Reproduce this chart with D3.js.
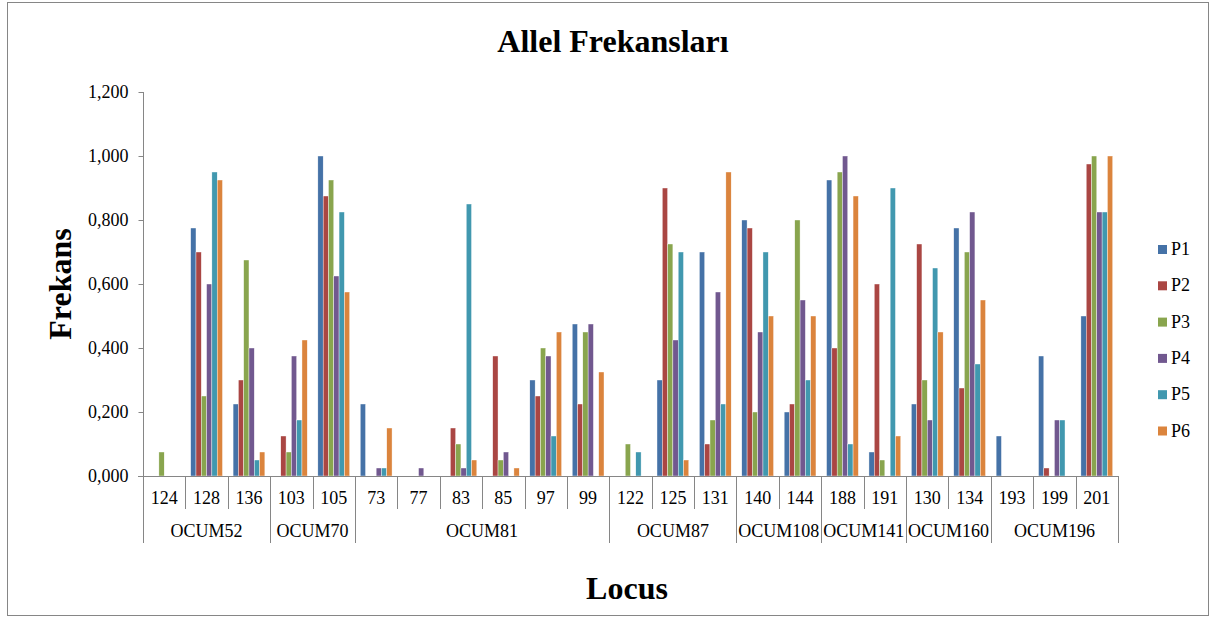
<!DOCTYPE html>
<html>
<head>
<meta charset="utf-8">
<script src="https://cdn.jsdelivr.net/npm/d3@7"></script>
<style>
  html, body { margin: 0; padding: 0; background: #fff; }
</style>
</head>
<body>
<div id="chart"></div>
<script>
const categories = ["124", "128", "136", "103", "105", "73", "77", "83", "85", "97", "99",
    "122", "125", "131", "140", "144", "188", "191", "130", "134", "193", "199", "201"];
const locusNames = ["OCUM52", "OCUM70", "OCUM81", "OCUM87", "OCUM108", "OCUM141", "OCUM160", "OCUM196"];
const locusSizes = [3, 2, 6, 3, 2, 2, 2, 3];
const seriesNames = ["P1", "P2", "P3", "P4", "P5", "P6"];
const seriesColors = ["#4572A7", "#AA4643", "#89A54E", "#71588F", "#4198AF", "#DB843D"];

const P1 = [0, .775, .225, 0, 1, .225, 0, 0, 0, .3, .475, 0, .3, .7, .8, .2, .925, .075, .225, .775, .125, .375, .5];
const P2 = [0, .7, .3, .125, .875, 0, 0, .15, .375, .25, .225, 0, .9, .1, .775, .225, .4, .6, .725, .275, 0, .025, .975];
const P3 = [.075, .25, .675, .075, .925, 0, 0, .1, .05, .4, .45, .1, .725, .175, .2, .8, .95, .05, .3, .7, 0, 0, 1];
const P4 = [0, .6, .4, .375, .625, .025, .025, .025, .075, .375, .475, 0, .425, .575, .45, .55, 1, 0, .175, .825, 0, .175, .825];
const P5 = [0, .95, .05, .175, .825, .025, 0, .85, 0, .125, 0, .075, .7, .225, .7, .3, .1, .9, .65, .35, 0, .175, .825];
const P6 = [0, .925, .075, .425, .575, .15, 0, .05, .025, .45, .325, 0, .05, .95, .5, .5, .875, .125, .45, .55, 0, 0, 1];
const seriesValues = [P1, P2, P3, P4, P5, P6];

const yTicks = [0, 0.2, 0.4, 0.6, 0.8, 1.0, 1.2];

const width = 1216, height = 617;
const axisColor = "#868686";
const serif = "'Liberation Serif', 'Times New Roman', Times, serif";

const svg = d3.select("#chart").append("svg")
    .attr("width", width)
    .attr("height", height);

// outer frame
svg.append("rect")
    .attr("x", 7.5).attr("y", 2.5)
    .attr("width", 1201).attr("height", 613)
    .attr("fill", "#fff")
    .attr("stroke", axisColor)
    .attr("stroke-width", 1);

const x = d3.scaleBand()
    .domain(categories)
    .range([143, 1118])
    .paddingInner(0)
    .paddingOuter(0);

const xs = d3.scaleBand()
    .domain(seriesNames)
    .range([0, x.bandwidth()])
    .paddingInner(0)
    .paddingOuter(1);

const y = d3.scaleLinear()
    .domain([0, 1.2])
    .range([476, 92]);

// bars
const rows = [];
categories.forEach((c, i) => {
    seriesNames.forEach((s, j) => {
        rows.push({ cat: c, series: s, value: seriesValues[j][i], color: seriesColors[j] });
    });
});

svg.append("g")
    .selectAll("rect")
    .data(rows.filter(d => d.value > 0))
    .enter().append("rect")
    .attr("x", d => x(d.cat) + xs(d.series))
    .attr("y", d => y(d.value))
    .attr("width", xs.bandwidth())
    .attr("height", d => y(0) - y(d.value))
    .attr("fill", d => d.color)
    .attr("stroke", "#fff")
    .attr("stroke-width", 0.4);

// y axis
const yAxis = svg.append("g")
    .attr("transform", "translate(143.5,0)")
    .call(d3.axisLeft(y)
        .tickValues(yTicks)
        .tickSize(5)
        .tickPadding(10)
        .tickFormat(d => d.toFixed(3).replace(".", ",")));
yAxis.select(".domain").remove();
yAxis.selectAll(".tick line").attr("stroke", axisColor);
yAxis.selectAll(".tick text")
    .style("font-family", serif)
    .style("font-size", "18px")
    .attr("fill", "#000");

svg.append("line")
    .attr("x1", 143.5).attr("x2", 143.5)
    .attr("y1", 92).attr("y2", 476)
    .attr("stroke", axisColor);

// x axis line
svg.append("line")
    .attr("x1", 138).attr("x2", 1118)
    .attr("y1", 476.5).attr("y2", 476.5)
    .attr("stroke", axisColor);

// category separators and labels
const boundaries = [0];
locusSizes.forEach(n => boundaries.push(boundaries[boundaries.length - 1] + n));
const step = x.step();

for (let i = 0; i <= categories.length; i++) {
    const xp = Math.round(143 + i * step) + 0.5;
    const isGroup = boundaries.includes(i);
    svg.append("line")
        .attr("x1", xp).attr("x2", xp)
        .attr("y1", 476)
        .attr("y2", isGroup ? 543 : 509)
        .attr("stroke", axisColor);
}

svg.append("g")
    .selectAll("text")
    .data(categories)
    .enter().append("text")
    .attr("x", d => x(d) + x.bandwidth() / 2)
    .attr("y", 504)
    .attr("text-anchor", "middle")
    .style("font-family", serif)
    .style("font-size", "18px")
    .text(d => d);

svg.append("g")
    .selectAll("text")
    .data(locusNames)
    .enter().append("text")
    .attr("x", (d, i) => 143 + (boundaries[i] + boundaries[i + 1]) / 2 * step)
    .attr("y", 537)
    .attr("text-anchor", "middle")
    .style("font-family", serif)
    .style("font-size", "18px")
    .text(d => d);

// titles
function bigTitle(sel) {
    return sel.attr("text-anchor", "middle")
        .style("font-family", serif)
        .style("font-size", "32px")
        .style("font-weight", "bold");
}

svg.append("text")
    .attr("x", 613).attr("y", 52)
    .call(bigTitle)
    .text("Allel Frekansları");

svg.append("text")
    .attr("transform", "translate(71,284) rotate(-90)")
    .call(bigTitle)
    .text("Frekans");

svg.append("text")
    .attr("x", 627).attr("y", 599)
    .call(bigTitle)
    .text("Locus");

// legend
const legend = svg.append("g")
    .selectAll("g")
    .data(seriesNames)
    .enter().append("g")
    .attr("transform", (d, i) => `translate(1158,${255 + i * 36.3})`);

legend.append("rect")
    .attr("x", 0).attr("y", -10)
    .attr("width", 9).attr("height", 9)
    .attr("fill", (d, i) => seriesColors[i]);

legend.append("text")
    .attr("x", 13).attr("y", 0)
    .style("font-family", serif)
    .style("font-size", "18px")
    .text(d => d);
</script>
</body>
</html>
